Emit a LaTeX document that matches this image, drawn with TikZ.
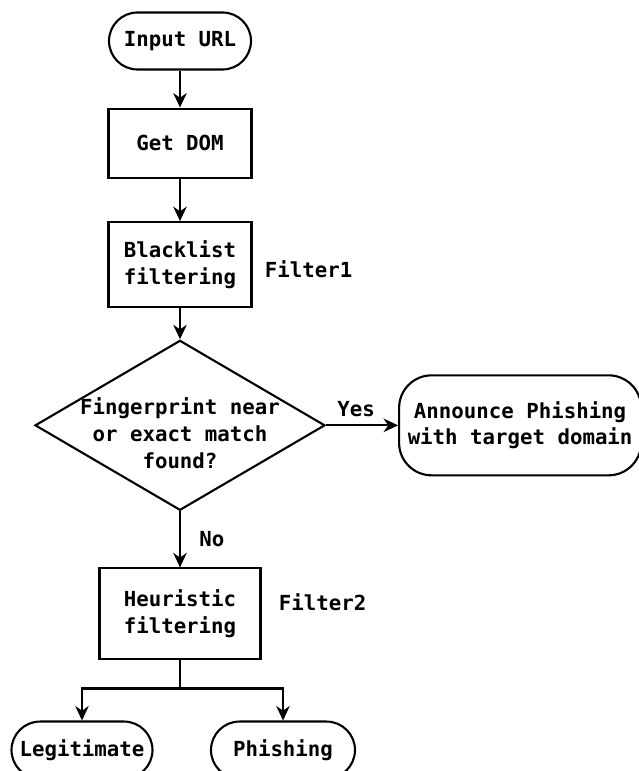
\documentclass[tikz,border=0pt]{standalone}
\usepackage{fontspec}
\setmonofont{DejaVu Sans Mono}
\usetikzlibrary{arrows.meta, positioning, shapes.geometric}

\begin{document}
\begin{tikzpicture}[
    node distance=0.8cm,
    every node/.style={font=\fontsize{11.8}{15.2}\selectfont\ttfamily\bfseries},
    terminal/.style={rectangle, draw, line width=1.2pt, minimum width=2.84cm, minimum height=1.14cm, rounded corners=0.57cm, align=center},
    procbox/.style={rectangle, draw, line width=1.2pt, minimum width=2.86cm, align=center},
    decision/.style={diamond, draw, line width=1.2pt, minimum width=5.8cm, minimum height=3.4cm, inner sep=0pt},
    arrow/.style={-{Stealth[length=2.9mm, width=2.7mm]}, line width=1.2pt},
    line/.style={line width=1.2pt},
    note/.style={inner sep=0pt}
]
\useasboundingbox (-3.6,0.82) rectangle (9.16,-14.6);

% ============ MAIN FLOW ============
\node[terminal] (inurl) at (0,0) {Input URL};
\node[procbox, minimum height=1.38cm, below=0.74cm of inurl] (getdom) {Get DOM};
\node[procbox, minimum height=1.7cm, below=0.85cm of getdom] (blacklist) {Blacklist\\filtering};
\node[note, right=0.24cm of blacklist, yshift=-0.09cm] (filter1) {Filter1};

% Decision
\node[decision, below=0.62cm of blacklist] (check) {};
\node[align=center, yshift=-0.16cm] (checktxt) at (check) {Fingerprint near\\or exact match\\found?};

% Yes branch
\node[terminal, minimum width=4.84cm, minimum height=2cm, rounded corners=0.65cm, right=1.44cm of check] (announce) {Announce Phishing\\with target domain};

% No branch
\node[procbox, minimum width=3.22cm, minimum height=1.82cm, below=1.12cm of check] (heuristic) {Heuristic\\filtering};
\node[note, right=0.34cm of heuristic, yshift=0.24cm] (filter2) {Filter2};

% ============ OUTCOMES ============
\coordinate[below=0.56cm of heuristic] (split);
\node[terminal, minimum width=2.82cm, below=1.2cm of heuristic, xshift=-1.96cm] (legit) {Legitimate};
\node[terminal, minimum width=2.88cm, below=1.2cm of heuristic, xshift=2.06cm] (phish) {Phishing};

% ============ CONNECTIONS ============
\draw[arrow] (inurl) -- (getdom);
\draw[arrow] (getdom) -- (blacklist);
\draw[arrow] (blacklist) -- (check);
\draw[arrow] (check) -- node[above=1pt, xshift=-0.12cm] (yes) {Yes} (announce);
\draw[arrow] (check) -- node[right=0.25cm] (no) {No} (heuristic);
\draw[line] (heuristic) -- (split);
\draw[arrow] (split) -| (legit);
\draw[arrow] (split) -| (phish);

\end{tikzpicture}
\end{document}
